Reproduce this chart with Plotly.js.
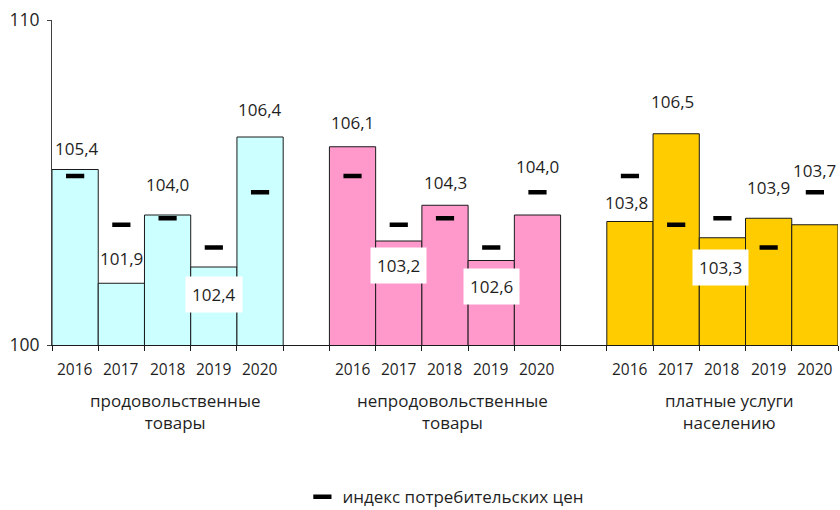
<!DOCTYPE html>
<html>
<head>
<meta charset="utf-8">
<script src="https://cdn.plot.ly/plotly-3.0.1.min.js"></script>
<style>html,body{margin:0;padding:0;background:#fff;}#chart{width:840px;height:510px;}</style>
</head>
<body>
<div id="chart"></div>
<script>
// ---- data ----
var years = ["2016", "2017", "2018", "2019", "2020"];
var groups = ["продовольственные<br>товары", "непродовольственные<br>товары", "платные услуги<br>населению"];
var foodValues = [105.4, 101.9, 104.0, 102.4, 106.4];
var nonFoodValues = [106.1, 103.2, 104.3, 102.6, 104.0];
var servicesValues = [103.8, 106.5, 103.3, 103.9, 103.7];
var cpiValues = [105.2, 103.7, 103.9, 103.0, 104.7];
var cpiName = "индекс потребительских цен";
var yTicks = [100, 110];

// ---- styles / placement ----
var colors = ["#CCFFFF", "#FF99CC", "#FFCC00"];
var groupStride = 6;
// label pixel offsets (relative to bar top) and whether it sits on a white box
var labelShift = [
  [-21, -25, -31, 27, -28],
  [-24, 24, -23, 26, -49],
  [-19, -32, 30, -31, -54]
];
var labelBox = [
  [false, false, false, true, false],
  [false, true, false, true, false],
  [false, false, true, false, false]
];
var labelDx = [
  [2, 0, 0, 0, 0],
  [0, 0, 0, 0, 0],
  [-3, -4, -2, 0, 0]
];

var series = [foodValues, nonFoodValues, servicesValues];
var FONT = "Open Sans, Noto Sans, sans-serif";
var TXT = "#1f1f1f";

function fmt(v) { return v.toFixed(1).replace(".", ","); }

var traces = [];
var annotations = [];
var cpiX = [], cpiY = [];
var tickvals = [];

series.forEach(function (vals, g) {
  var xs = years.map(function (_, i) { return g * groupStride + i; });
  traces.push({
    type: "bar",
    x: xs,
    y: vals,
    width: 1,
    marker: { color: colors[g], line: { color: "#1a1a1a", width: 1 } },
    showlegend: false,
    hoverinfo: "skip"
  });
  xs.forEach(function (x, i) {
    cpiX.push(x);
    cpiY.push(cpiValues[i]);
    annotations.push({
      x: x, y: vals[i], xref: "x", yref: "y",
      text: fmt(vals[i]),
      showarrow: false,
      xanchor: "center", yanchor: "middle",
      yshift: -labelShift[g][i],
      xshift: labelDx[g][i],
      font: { family: FONT, size: 17, color: TXT },
      bgcolor: labelBox[g][i] ? "#ffffff" : "rgba(0,0,0,0)",
      borderpad: labelBox[g][i] ? 6 : 0
    });
    annotations.push({
      x: x, y: 0, xref: "x", yref: "paper",
      text: years[i],
      showarrow: false,
      xanchor: "center", yanchor: "middle",
      yshift: -24,
      font: { family: FONT, size: 15.5, color: TXT }
    });
    tickvals.push(x - 0.5);
  });
  tickvals.push(xs[xs.length - 1] + 0.5);
  annotations.push({
    x: g * groupStride + (years.length - 1) / 2, y: 0, xref: "x", yref: "paper",
    text: groups[g],
    showarrow: false,
    xanchor: "center", yanchor: "top",
    xshift: 7,
    yshift: -42,
    font: { family: FONT, size: 17, color: TXT }
  });
});

traces.push({
  type: "scatter",
  mode: "markers",
  x: cpiX,
  y: cpiY,
  name: cpiName,
  marker: { symbol: "line-ew-open", size: 13, color: "#000", line: { color: "#000", width: 4.5 } },
  hoverinfo: "skip"
});

var layout = {
  width: 840, height: 510,
  margin: { l: 52, r: 2, t: 20, b: 165 },
  paper_bgcolor: "#fff", plot_bgcolor: "#fff",
  barmode: "overlay",
  font: { family: FONT, color: TXT },
  xaxis: {
    range: [-0.5, 2 * groupStride + years.length - 0.5],
    tickvals: tickvals,
    ticktext: tickvals.map(function () { return ""; }),
    ticks: "outside", ticklen: 5, tickcolor: "#1a1a1a",
    showline: true, linecolor: "#1a1a1a", linewidth: 1,
    showgrid: false, zeroline: false, fixedrange: true
  },
  yaxis: {
    range: [yTicks[0], yTicks[1]],
    tickvals: yTicks,
    ticktext: yTicks.map(String),
    ticks: "outside", ticklen: 4, tickcolor: "#404040",
    showline: true, linecolor: "#404040", linewidth: 1,
    showgrid: false, zeroline: false,
    ticklabelstandoff: 4,
    tickfont: { family: FONT, size: 17.5, color: TXT },
    fixedrange: true
  },
  showlegend: true,
  legend: {
    orientation: "h",
    x: 0.36, xanchor: "left", xref: "container",
    y: 0.025, yanchor: "middle", yref: "container",
    font: { family: FONT, size: 17, color: TXT },
    itemwidth: 30
  },
  annotations: annotations
};

Plotly.newPlot("chart", traces, layout, { displayModeBar: false, staticPlot: true });
</script>
</body>
</html>
